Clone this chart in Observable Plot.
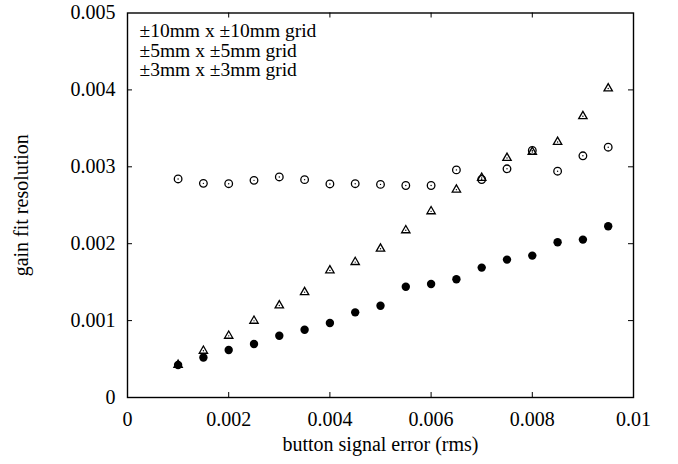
<!DOCTYPE html>
<html>
<head>
<meta charset="utf-8">
<script src="https://cdn.jsdelivr.net/npm/d3@7"></script>
<script src="https://cdn.jsdelivr.net/npm/@observablehq/plot@0.6"></script>
<style>
  html, body { margin: 0; padding: 0; background: #fff; }
</style>
</head>
<body>
<div id="chart"></div>
<script>
// ---- data ----
const xValues = [0.001, 0.0015, 0.002, 0.0025, 0.003, 0.0035, 0.004, 0.0045, 0.005,
                 0.0055, 0.006, 0.0065, 0.007, 0.0075, 0.008, 0.0085, 0.009, 0.0095];
// open circles
const grid10 = [0.002842, 0.002785, 0.002780, 0.002824, 0.002868, 0.002833, 0.002777, 0.002780, 0.002771,
                0.002757, 0.002757, 0.002960, 0.002835, 0.002974, 0.003212, 0.002943, 0.003143, 0.003255];
// open triangles
const grid5 = [0.000425, 0.000607, 0.000802, 0.000997, 0.001197, 0.001370, 0.001653, 0.001761, 0.001935,
               0.002174, 0.002421, 0.002703, 0.002855, 0.003115, 0.003193, 0.003323, 0.003658, 0.004019];
// filled circles
const grid3 = [0.000422, 0.000521, 0.000617, 0.000695, 0.000803, 0.000881, 0.000969, 0.001107, 0.001194,
               0.001441, 0.001476, 0.001537, 0.001689, 0.001793, 0.001845, 0.002018, 0.002053, 0.002227];

const seriesNames = ["±10mm x ±10mm grid", "±5mm x ±5mm grid", "±3mm x ±3mm grid"];
const xTicks = [0, 0.002, 0.004, 0.006, 0.008, 0.01];
const xTickLabels = ["0", "0.002", "0.004", "0.006", "0.008", "0.01"];
const yTicks = [0, 0.001, 0.002, 0.003, 0.004, 0.005];
const yTickLabels = ["0", "0.001", "0.002", "0.003", "0.004", "0.005"];
const xLabel = "button signal error (rms)";
const yLabel = "gain fit resolution";

// ---- build tables ----
const d10 = xValues.map((x, i) => ({x, y: grid10[i], series: seriesNames[0]}));
const d5 = xValues.map((x, i) => ({x, y: grid5[i], series: seriesNames[1]}));
const d3s = xValues.map((x, i) => ({x, y: grid3[i], series: seriesNames[2]}));
const xTickData = xTicks.map((v, i) => ({v, label: xTickLabels[i]}));
const yTickData = yTicks.map((v, i) => ({v, label: yTickLabels[i]}));

const W = 678, H = 464;
const mL = 127, mR = 45, mT = 12.5, mB = 67;
const fW = W - mL - mR, fH = H - mT - mB;
const tickLen = 5;
const font = "'Liberation Serif', 'Times New Roman', serif";

const chart = Plot.plot({
  width: W,
  height: H,
  marginLeft: mL,
  marginRight: mR,
  marginTop: mT,
  marginBottom: mB,
  style: {fontFamily: font, fontSize: "20px", background: "white", color: "black"},
  x: {domain: [0, 0.01], axis: null},
  y: {domain: [0, 0.005], axis: null},
  marks: [
    // inward ticks on all four sides
    Plot.tickX(xTicks.slice(1, -1), {x: d => d, insetTop: fH - tickLen, stroke: "black", strokeWidth: 1}),
    Plot.tickX(xTicks.slice(1, -1), {x: d => d, insetBottom: fH - tickLen, stroke: "black", strokeWidth: 1}),
    Plot.tickY(yTicks.slice(1, -1), {y: d => d, insetRight: fW - tickLen, stroke: "black", strokeWidth: 1}),
    Plot.tickY(yTicks.slice(1, -1), {y: d => d, insetLeft: fW - tickLen, stroke: "black", strokeWidth: 1}),
    Plot.frame({stroke: "black", strokeWidth: 1.4}),
    // tick labels
    Plot.text(xTickData, {x: "v", text: "label", frameAnchor: "bottom", lineAnchor: "middle", textAnchor: "middle",
      dy: 22, fontSize: 20, fill: "black"}),
    Plot.text(yTickData, {y: "v", text: "label", frameAnchor: "left", lineAnchor: "middle", textAnchor: "end",
      dx: -12, fontSize: 20, fill: "black"}),
    // x-axis title, centred under the frame
    Plot.text([xLabel], {x: () => 0.005, frameAnchor: "bottom", lineAnchor: "middle", textAnchor: "middle",
      dy: 47, fontSize: 20, fill: "black"}),
    // y-axis title, rotated and centred beside the frame
    Plot.text([yLabel], {y: () => 0.0025, frameAnchor: "left", rotate: -90, textAnchor: "middle", lineAnchor: "middle",
      dx: -106, fontSize: 20, fill: "black"}),
    Plot.text([seriesNames.join("\n")], {frameAnchor: "top-left", textAnchor: "start", lineAnchor: "top",
      dx: 12, dy: 10.5, lineHeight: 1.0, fontSize: 19.5, fill: "black"}),
    // series
    Plot.dot(d10, {x: "x", y: "y", r: 3.8, symbol: "circle", stroke: "black", strokeWidth: 1.3, fill: "none"}),
    Plot.dot(d10, {x: "x", y: "y", r: 0.7, fill: "black", stroke: "none"}),
    Plot.dot(d5, {x: "x", y: "y", r: 3.1, symbol: "triangle", stroke: "black", strokeWidth: 1.3, fill: "none"}),
    Plot.dot(d5, {x: "x", y: "y", r: 0.7, fill: "black", stroke: "none"}),
    Plot.dot(d3s, {x: "x", y: "y", r: 4.2, symbol: "circle", fill: "black", stroke: "none"})
  ]
});
document.getElementById("chart").appendChild(chart);
</script>
</body>
</html>
